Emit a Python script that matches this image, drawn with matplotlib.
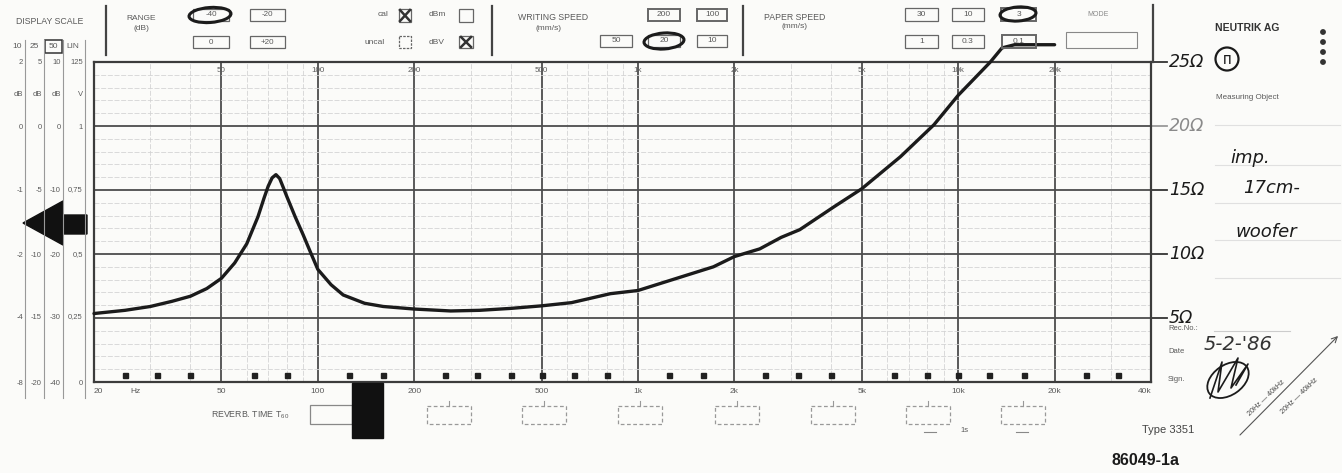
import matplotlib
matplotlib.use("Agg")
import matplotlib.pyplot as plt
from matplotlib.patches import Rectangle, Ellipse, Circle, Polygon
from matplotlib.ticker import FixedLocator, NullFormatter, LogLocator

# ---- impedance trace of the 17 cm woofer ----
freq_hz = [20, 25, 30, 35, 40, 45, 50, 55, 60, 65, 68, 70, 72, 74, 76, 78, 80, 85,
           90, 95, 100, 110, 120, 140, 160, 200, 260, 320, 400, 500, 620, 820, 1000,
           1360, 1720, 2000, 2400, 2800, 3200, 4100, 5000, 6600, 8400, 10000, 12600,
           13700, 15000, 20000]
impedance_ohm = [5.35, 5.6, 5.9, 6.3, 6.7, 7.3, 8.1, 9.3, 10.8, 12.9, 14.4, 15.3,
                 15.95, 16.2, 15.9, 15.2, 14.5, 12.9, 11.5, 10.1, 8.8, 7.6, 6.8,
                 6.15, 5.9, 5.7, 5.55, 5.6, 5.75, 5.95, 6.2, 6.9, 7.15, 8.2, 9.0,
                 9.8, 10.4, 11.3, 11.9, 13.7, 15.1, 17.6, 20.1, 22.4, 25.0, 26.1,
                 26.35, 26.35]

# ---- chart paper scales ----
major_freqs = [50, 100, 200, 500, 1000, 2000, 5000, 10000, 20000]
top_labels = ["50", "100", "200", "500", "1k", "2k", "5k", "10k", "20k"]
bottom_freqs = [50, 100, 200, 500, 1000, 2000, 5000, 10000, 20000, 40000]
bottom_labels = ["50", "100", "200", "500", "1k", "2k", "5k", "10k", "20k", "40k"]
ohm_levels = [5, 10, 15, 20, 25]
ohm_labels = ["5Ω", "10Ω", "15Ω", "20Ω", "25Ω"]
third_octave_marks = [25, 31.5, 40, 63, 80, 125, 160, 250, 315, 400, 500, 630, 800,
                      1250, 1600, 2500, 3150, 4000, 6300, 8000, 10000, 12500, 16000,
                      25000, 31500]

# ---- display-scale columns (left margin) ----
scale_headers = ["10", "25", "50", "LIN"]
scale_top = ["2", "5", "10", "125"]
scale_units = ["dB", "dB", "dB", "V"]
scale_rows = [["0", "0", "0", "1"],
              ["-1", "-5", "-10", "0,75"],
              ["-2", "-10", "-20", "0,5"],
              ["-4", "-15", "-30", "0,25"],
              ["-8", "-20", "-40", "0"]]

W, H = 1342, 473
PAPER = "#fbfbf9"
INK = "#1b1b1b"
GRID = "#4d4d4d"
PRINT = "#5a5a5a"
FONT = "Liberation Sans"
HAND = "DejaVu Sans"

fig = plt.figure(figsize=(W / 100, H / 100), dpi=100, facecolor=PAPER)

# main recording area, pixel frame 94..1151 x 62..382
X0, X1, YT, YB = 94, 1151, 62, 382
ax = fig.add_axes([X0 / W, (H - YB) / H, (X1 - X0) / W, (YB - YT) / H], zorder=1)
ax.set_facecolor(PAPER)
ax.set_xscale("log")
ax.set_xlim(20, 40000)
ax.set_ylim(0, 25)
ax.xaxis.set_major_locator(FixedLocator(major_freqs))
ax.xaxis.set_minor_locator(LogLocator(base=10, subs=range(2, 10), numticks=20))
ax.xaxis.set_major_formatter(NullFormatter())
ax.xaxis.set_minor_formatter(NullFormatter())
ax.yaxis.set_major_locator(FixedLocator(ohm_levels[:-1]))
ax.yaxis.set_minor_locator(FixedLocator(range(1, 25)))
ax.tick_params(which="both", length=0, labelleft=False, labelbottom=False)
ax.grid(which="minor", color="#d4d4d4", lw=0.6, ls=(0, (6, 2)))
ax.grid(which="major", color=GRID, lw=1.3)
ax.set_axisbelow(True)
for s in ax.spines.values():
    s.set_color("#3c3c3c")
    s.set_linewidth(1.6)

ax.plot(freq_hz, impedance_ohm, color=INK, lw=2.4, clip_on=False, zorder=5,
        solid_capstyle="round", solid_joinstyle="round")
ax.plot(third_octave_marks, [0.55] * len(third_octave_marks), ls="none",
        marker="s", ms=3.6, color="#202020", zorder=4)

xt = ax.get_xaxis_transform()
yt = ax.get_yaxis_transform()
for f, lab in zip(major_freqs, top_labels):
    ax.text(f, 0.975, lab, transform=xt, ha="center", va="center", fontsize=5.8,
            color=PRINT, family=FONT, zorder=6)
ax.text(20, -0.031, "20", transform=xt, ha="left", va="center", fontsize=6,
        color=PRINT, family=FONT)
ax.text(27, -0.031, "Hz", transform=xt, ha="center", va="center", fontsize=6,
        color=PRINT, family=FONT)
for f, lab in zip(bottom_freqs, bottom_labels):
    ha = "right" if f == 40000 else "center"
    ax.text(f, -0.031, lab, transform=xt, ha=ha, va="center", fontsize=6,
            color=PRINT, family=FONT)

# handwritten impedance scale on the right edge
for v, lab in zip(ohm_levels, ohm_labels):
    light = v == 20
    ax.plot([1.0, 1.015], [v, v], transform=yt, color="#999" if light else "#333",
            lw=1.3, clip_on=False)
    ax.text(1.017, v, lab, transform=yt, ha="left", va="center", fontsize=12.5,
            family=HAND, style="italic", color="#8a8a8a" if light else INK,
            clip_on=False)

# ---- overlay in pixel coordinates for the printed form ----
ov = fig.add_axes([0, 0, 1, 1], zorder=2)
ov.set_xlim(0, W)
ov.set_ylim(H, 0)
ov.axis("off")
ov.patch.set_alpha(0)


def t(x, y, s, size=6, ha="center", color=PRINT, **kw):
    kw.setdefault("family", FONT)
    ov.text(x, y, s, fontsize=size, ha=ha, va="center", color=color, **kw)


def box(x0, y0, x1, y1, lw=0.9, color="#666", ls="-"):
    ov.add_patch(Rectangle((x0, y0), x1 - x0, y1 - y0, lw=lw, ec=color, ls=ls,
                           fc="none"))


def ring(xc, yc, w, h):
    ov.add_patch(Ellipse((xc, yc), w, h, angle=-4, lw=2.2, ec=INK, fc="none"))


# header separators
for xs in (106, 492, 743):
    ov.plot([xs, xs], [6, 55], color="#444", lw=1.6)
ov.plot([1153, 1153], [5, 62], color="#444", lw=1.6)

t(50, 22, "DISPLAY SCALE", 6.3)
t(141, 19, "RANGE", 6)
t(141, 28, "(dB)", 6)
for (x0, x1, y0, y1, s) in [(193, 229, 9, 21, "-40"), (250, 285, 9, 21, "-20"),
                            (193, 229, 36, 48, "0"), (250, 285, 36, 48, "+20")]:
    box(x0, y0, x1, y1)
    t((x0 + x1) / 2, (y0 + y1) / 2, s, 5.8)
ring(210, 15, 42, 15)

t(383, 15, "cal", 6)
t(375, 43, "uncal", 6)
box(399, 9, 411, 22)
ov.plot([400, 410], [10, 21], color="#333", lw=1.8)
ov.plot([400, 410], [21, 10], color="#333", lw=1.8)
box(399, 36, 411, 48, ls=(0, (2, 1)))
t(437, 15, "dBm", 6)
t(437, 43, "dBV", 6)
box(459, 9, 473, 22)
box(459, 36, 473, 48)
ov.plot([461, 471], [37, 47], color="#333", lw=1.8)
ov.plot([461, 471], [47, 37], color="#333", lw=1.8)

t(553, 18, "WRITING SPEED", 6.3)
t(549, 28, "(mm/s)", 6)
for (x0, x1, y0, y1, s, lw) in [(648, 680, 9, 21, "200", 1.4), (697, 727, 9, 21, "100", 1.4),
                                (600, 632, 35, 47, "50", 0.9), (648, 680, 35, 47, "20", 0.9),
                                (697, 727, 35, 47, "10", 0.9)]:
    box(x0, y0, x1, y1, lw=lw)
    t((x0 + x1) / 2, (y0 + y1) / 2, s, 6)
ring(664, 41, 40, 16)

t(795, 17, "PAPER SPEED", 6.3)
t(795, 27, "(mm/s)", 6)
for (x0, x1, y0, y1, s, lw) in [(905, 938, 8, 21, "30", 0.9), (952, 984, 8, 21, "10", 0.9),
                                (1001, 1036, 8, 21, "3", 1.4), (905, 938, 35, 48, "1", 0.9),
                                (952, 984, 35, 48, "0.3", 0.9), (1002, 1036, 35, 48, "0.1", 1.4)]:
    box(x0, y0, x1, y1, lw=lw)
    t((x0 + x1) / 2, (y0 + y1) / 2, s, 6)
ring(1018, 14, 36, 14)
t(1098, 15, "MODE", 5, color="#888")
box(1066, 32, 1137, 48, lw=0.8, color="#888")

t(1247, 28, "NEUTRIK AG", 7.5, color="#333", weight="bold")
for yy in (32, 42, 52, 62):
    ov.add_patch(Circle((1323, yy), 2.2, color="#333"))
ov.add_patch(Circle((1227, 59), 11.5, fc="none", ec=INK, lw=1.6))
t(1227, 59, "ᴨ", 11, color=INK, family="DejaVu Sans")
t(1247, 97, "Measuring Object", 5.8)

# writing lines of the right-hand panel
for yy in (125, 165, 203, 240, 278):
    ov.plot([1215, 1340], [yy, yy], color="#e0e0e0", lw=0.8)
t(1250, 158, "imp.", 13, ha="center", color=INK, family=HAND, style="italic")
t(1272, 188, "17cm-", 13, ha="center", color=INK, family=HAND, style="italic")
t(1266, 232, "woofer", 13, ha="center", color=INK, family=HAND, style="italic")

t(1168, 328, "Rec.No.:", 5.5, ha="left")
ov.plot([1214, 1290], [331, 331], color="#ccc", lw=0.8)
t(1168, 351, "Date", 5.5, ha="left")
t(1238, 344, "5-2-'86", 14, color="#333", family=HAND, style="italic")
t(1168, 379, "Sign.", 5.5, ha="left")
ov.add_patch(Ellipse((1228, 380), 46, 30, angle=-35, fc="none", ec=INK, lw=1.3))
ov.plot([1210, 1222, 1218, 1238, 1231, 1248, 1236],
        [398, 362, 392, 358, 388, 364, 385], color=INK, lw=1.2)

# frequency span note
ov.annotate("", xy=(1340, 334), xytext=(1238, 437),
            arrowprops=dict(arrowstyle="->", color="#555", lw=0.8))
t(1266, 398, "20Hz — 40kHz", 5.2, rotation=44, color="#444")
t(1299, 396, "20Hz — 40kHz", 5.2, rotation=44, color="#444")
t(1168, 430, "Type 3351", 8, ha="center", color="#444")
t(1146, 460, "86049-1a", 11.5, ha="center", color=INK, weight="bold")

# display-scale columns
for xs in (25, 44, 63, 85):
    ov.plot([xs, xs], [40, 398], color="#999", lw=0.8)
for xc, s in zip((17, 34, 53, 73), scale_headers):
    t(xc, 46, s, 6)
box(45, 40, 62, 53, lw=1.1, color="#333")
for xr, s in zip((23, 42, 61, 83), scale_top):
    t(xr, 62, s, 5.5, ha="right")
for xr, s in zip((23, 42, 61, 83), scale_units):
    t(xr, 95, s, 5.5, ha="right")
for row, yy in zip(scale_rows, (127, 190, 255, 317, 383)):
    for xr, s in zip((23, 42, 61, 83), row):
        t(xr, yy, s, 5.5, ha="right")

# marker arrow in the margin
ov.add_patch(Polygon([(23, 223), (63, 201), (63, 215), (87, 215), (87, 234),
                      (63, 234), (63, 245)], closed=True, color="#111"))

# reverberation-time boxes along the bottom
t(250, 415, r"REVERB. TIME T$_{\mathregular{60}}$", 6.3)
box(310, 405, 352, 424, color="#888")
ov.add_patch(Rectangle((352, 383), 31, 55, color="#111"))
for xc in (449, 544, 640, 737, 833, 928, 1023):
    box(xc - 22, 406, xc + 22, 424, color="#999", ls=(0, (3, 2)))
    ov.plot([xc, xc], [401, 406], color="#999", lw=0.8)
t(965, 430, "1s", 5.5)
ov.plot([924, 936], [432, 432], color="#888", lw=0.8)
ov.plot([1016, 1028], [432, 432], color="#888", lw=0.8)

fig.savefig("out.png", dpi=100, facecolor=PAPER)
